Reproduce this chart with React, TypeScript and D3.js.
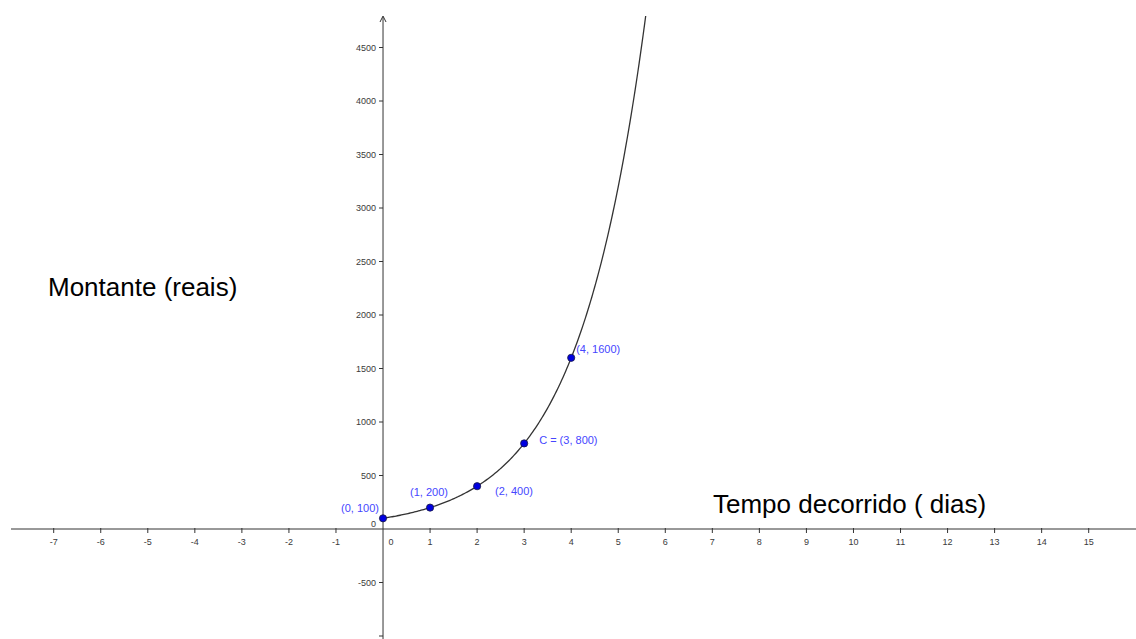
import React from "react";
import * as d3 from "d3";

// ---- data ----
const xTickValues = [-7, -6, -5, -4, -3, -2, -1, 1, 2, 3, 4, 5, 6, 7, 8, 9, 10, 11, 12, 13, 14, 15];
const yTickValues = [-1000, -500, 500, 1000, 1500, 2000, 2500, 3000, 3500, 4000, 4500];
const yTickLabels = ["", "-500", "500", "1000", "1500", "2000", "2500", "3000", "3500", "4000", "4500"];
const pointDays = [0, 1, 2, 3, 4];
const pointAmounts = [100, 200, 400, 800, 1600];
const pointLabels = ["(0, 100)", "(1, 200)", "(2, 400)", "C = (3, 800)", "(4, 1600)"];
const xAxisTitle = "Tempo decorrido ( dias)";
const yAxisTitle = "Montante (reais)";

// ---- layout (not data) ----
const W = 1136;
const H = 639;
const labelOffsets: [number, number, string][] = [
  [-4, -10, "end"],
  [-20, -15.5, "start"],
  [18, 5, "start"],
  [15, -3, "start"],
  [5, -9, "start"],
];

export default function App() {
  const x = d3.scaleLinear().domain([-7, 15]).range([53.7, 1088.7]);
  const y = d3.scaleLinear().domain([0, 4500]).range([529, 47.5]);
  const x0 = x(0);
  const y0 = y(0);

  // exponential curve defined by the points: A * r^t
  const A = pointAmounts[0];
  const r = pointAmounts[1] / pointAmounts[0];
  const yTop = y.invert(16);
  const tMax = Math.log(yTop / A) / Math.log(r);
  const samples = d3.range(0, 201).map((i) => (i / 200) * tMax);
  const line = d3
    .line<number>()
    .x((t) => x(t))
    .y((t) => y(A * Math.pow(r, t)));

  const tickFont = "'Liberation Sans', Arial, sans-serif";
  const tickColor = "#3a3a3a";

  return (
    <svg
      width={W}
      height={H}
      style={{ position: "absolute", left: 0, top: 0, background: "#fff" }}
      fontFamily={tickFont}
    >
      <rect x={0} y={0} width={W} height={H} fill="#fff" />
      {/* x axis */}
      <line x1={11} x2={W} y1={y0} y2={y0} stroke="#333" strokeWidth={1} />
      {xTickValues.map((v) => (
        <g key={"xt" + v}>
          <line x1={x(v)} x2={x(v)} y1={y0 - 1} y2={y0 + 4} stroke="#333" strokeWidth={1} />
          <text x={x(v)} y={y0 + 16} fontSize={9} fill={tickColor} textAnchor="middle">
            {v}
          </text>
        </g>
      ))}
      <text x={x0 + 8} y={y0 + 16} fontSize={9} fill={tickColor} textAnchor="middle">
        0
      </text>
      {/* y axis */}
      <line x1={x0} x2={x0} y1={17} y2={H} stroke="#333" strokeWidth={1} />
      <path
        d={`M${x0 - 3},${22} L${x0},${16} L${x0 + 3},${22}`}
        fill="none"
        stroke="#333"
        strokeWidth={1}
      />
      {yTickValues.map((v, i) => (
        <g key={"yt" + v}>
          <line x1={x0 - 4} x2={x0} y1={y(v)} y2={y(v)} stroke="#333" strokeWidth={1} />
          <text
            x={x0 - 7}
            y={y(v)}
            dy="0.35em"
            fontSize={9}
            fill={tickColor}
            textAnchor="end"
          >
            {yTickLabels[i]}
          </text>
        </g>
      ))}
      <text x={x0 - 7} y={y0 - 5} dy="0.35em" fontSize={9} fill={tickColor} textAnchor="end">
        0
      </text>
      {/* curve */}
      <path d={line(samples) || ""} fill="none" stroke="#333" strokeWidth={1.3} />
      {/* points */}
      {pointDays.map((d, i) => (
        <g key={"p" + i}>
          <circle cx={x(d)} cy={y(pointAmounts[i])} r={3.6} fill="#0000e0" stroke="#1a1a40" strokeWidth={0.8} />
          <text
            x={x(d) + labelOffsets[i][0]}
            y={y(pointAmounts[i]) + labelOffsets[i][1]}
            dy="0.35em"
            fontSize={11}
            fill="#4646ff"
            textAnchor={labelOffsets[i][2]}
          >
            {pointLabels[i]}
          </text>
        </g>
      ))}
      {/* titles */}
      <text x={48} y={296} fontSize={26} fill="#000">
        {yAxisTitle}
      </text>
      <text x={713} y={513} fontSize={26} fill="#000">
        {xAxisTitle}
      </text>
    </svg>
  );
}
